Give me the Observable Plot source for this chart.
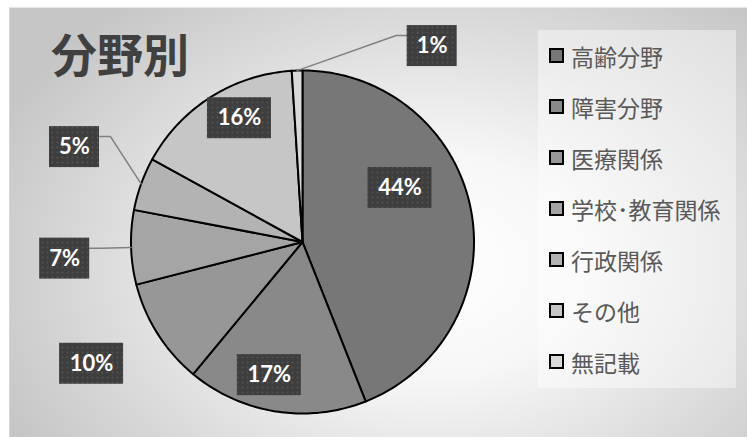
<!DOCTYPE html>
<html><head><meta charset="utf-8">
<script src="https://cdn.jsdelivr.net/npm/d3@7"></script>
<script src="https://cdn.jsdelivr.net/npm/@observablehq/plot@0.6"></script>
<style>
html,body{margin:0;padding:0;background:#fff;}
#chart{position:relative;width:747px;height:437px;overflow:hidden;}
#bg{position:absolute;left:9px;top:7px;width:738px;height:430px;
  background:radial-gradient(ellipse 64% 80% at 57% 60%, #ffffff 0%, #f7f7f7 32%, #dedede 66%, #c6c6c6 100%);
  border-top:1px solid #e6e6e6;border-left:1px solid #d6d6d6;box-sizing:border-box;}
#legend{position:absolute;left:538px;top:30px;width:198px;height:358px;background:rgba(255,255,255,0.42);}
.item{position:absolute;left:11px;height:30px;display:flex;align-items:center;
  font-family:"Noto Sans CJK JP",sans-serif;font-size:23px;color:#595959;white-space:nowrap;}
.sw{width:15px;height:15px;box-sizing:border-box;border:2px solid #000;margin-right:7px;flex:none;}
#title{position:absolute;left:51px;top:26px;font-family:"Noto Sans CJK JP",sans-serif;font-weight:bold;
  font-size:46px;line-height:52px;color:#404040;}
#plot{position:absolute;left:0;top:0;}
#plot svg{background:transparent !important;}
#plot g[aria-label="label-box"] rect{filter:drop-shadow(2px 3px 2px rgba(0,0,0,0.45));}
</style></head>
<body>
<div id="chart">
  <div id="bg"></div>
  <div id="legend"></div>
  <div id="title">分野別</div>
  <div id="plot"></div>
</div>
<script>
// ---- data ----
const categories = ["高齢分野", "障害分野", "医療関係", "学校・教育関係", "行政関係", "その他", "無記載"];
const legendLabels = ["高齢分野", "障害分野", "医療関係", "学校･教育関係", "行政関係", "その他", "無記載"];
const values = [44, 17, 10, 7, 5, 16, 1];
const colors = ["#777777", "#898989", "#979797", "#a5a5a5", "#b3b3b3", "#c6c6c6", "#d9d9d9"];
// label placement (polar: degrees clockwise from top, radius as fraction of pie radius)
const labelAngle = [61, 194, 240, 266, 292.6, 333, 33.5];
const labelRadius = [0.65, 0.80, 1.42, 1.39, 1.44, 0.81, 1.37];
const hasLeader = [false, false, false, true, true, false, true];

// ---- layout ----
const W = 747, H = 437, cx = 302, cy = 241.5, R = 171.5;
const total = d3.sum(values);
const pie = d3.pie().sort(null).value(d => d)(values);

// slice outlines in unit-circle coordinates
const slicePts = [];
pie.forEach((p, i) => {
  const a0 = p.startAngle, a1 = p.endAngle;
  const n = Math.max(4, Math.ceil((a1 - a0) / (Math.PI / 180)));
  slicePts.push({k: categories[i], c: colors[i], x: 0, y: 0});
  for (let j = 0; j <= n; j++) {
    const t = a0 + (a1 - a0) * j / n;
    slicePts.push({k: categories[i], c: colors[i], x: Math.sin(t), y: Math.cos(t)});
  }
  slicePts.push({k: categories[i], c: colors[i], x: 0, y: 0});
});

const labels = values.map((v, i) => {
  const a = labelAngle[i] * Math.PI / 180;
  const text = Math.round(v / total * 100) + "%";
  const hw = (22 + 14 * text.length) / 2 / R;
  const hh = 20.5 / R;
  return {text, x: labelRadius[i] * Math.sin(a), y: labelRadius[i] * Math.cos(a), hw, hh, i};
});

const leaderPts = [];
labels.forEach(l => {
  if (!hasLeader[l.i]) return;
  const m = (pie[l.i].startAngle + pie[l.i].endAngle) / 2;
  const side = l.x < 0 ? 1 : -1; // edge facing pie
  const ex = l.x + side * l.hw;
  const ey = l.y + l.hh - 10 / R;
  leaderPts.push({k: l.i, x: Math.sin(m), y: Math.cos(m)});
  leaderPts.push({k: l.i, x: ex + side * 11 / R, y: ey});
  leaderPts.push({k: l.i, x: ex, y: ey});
});

const chart = Plot.plot({
  width: W, height: H,
  margin: 0,
  style: {background: "transparent"},
  x: {domain: [-1, 1], range: [cx - R, cx + R], axis: null},
  y: {domain: [-1, 1], range: [cy + R, cy - R], axis: null},
  marks: [
    Plot.line(slicePts, {x: "x", y: "y", z: "k", fill: "c", stroke: "#000", strokeWidth: 2, strokeLinejoin: "round", curve: "linear"}),
    Plot.line(leaderPts, {x: "x", y: "y", z: "k", stroke: "#808080", strokeWidth: 1.5}),
    Plot.rect(labels, {x1: d => d.x - d.hw, x2: d => d.x + d.hw, y1: d => d.y - d.hh, y2: d => d.y + d.hh,
      fill: "url(#dots)", ariaLabel: "label-box"}),
    Plot.text(labels, {x: "x", y: "y", text: "text", fill: "#fff", fontSize: 22, fontWeight: "bold",
      fontFamily: "Lato, 'Open Sans', sans-serif"})
  ]
});

const defs = d3.select(chart).insert("defs", ":first-child");
const pat = defs.append("pattern").attr("id", "dots").attr("width", 5).attr("height", 5).attr("patternUnits", "userSpaceOnUse");
pat.append("rect").attr("width", 5).attr("height", 5).attr("fill", "#3e3e3e");
pat.append("circle").attr("cx", 2.5).attr("cy", 2.5).attr("r", 0.9).attr("fill", "#545454");

document.getElementById("plot").appendChild(chart);

// legend
const leg = document.getElementById("legend");
legendLabels.forEach((name, i) => {
  const it = document.createElement("div");
  it.className = "item";
  it.style.top = (25.5 + 51 * i - 15) + "px";
  const sw = document.createElement("span");
  sw.className = "sw";
  sw.style.background = colors[i];
  it.appendChild(sw);
  it.appendChild(document.createTextNode(name));
  leg.appendChild(it);
});
</script>
</body></html>
